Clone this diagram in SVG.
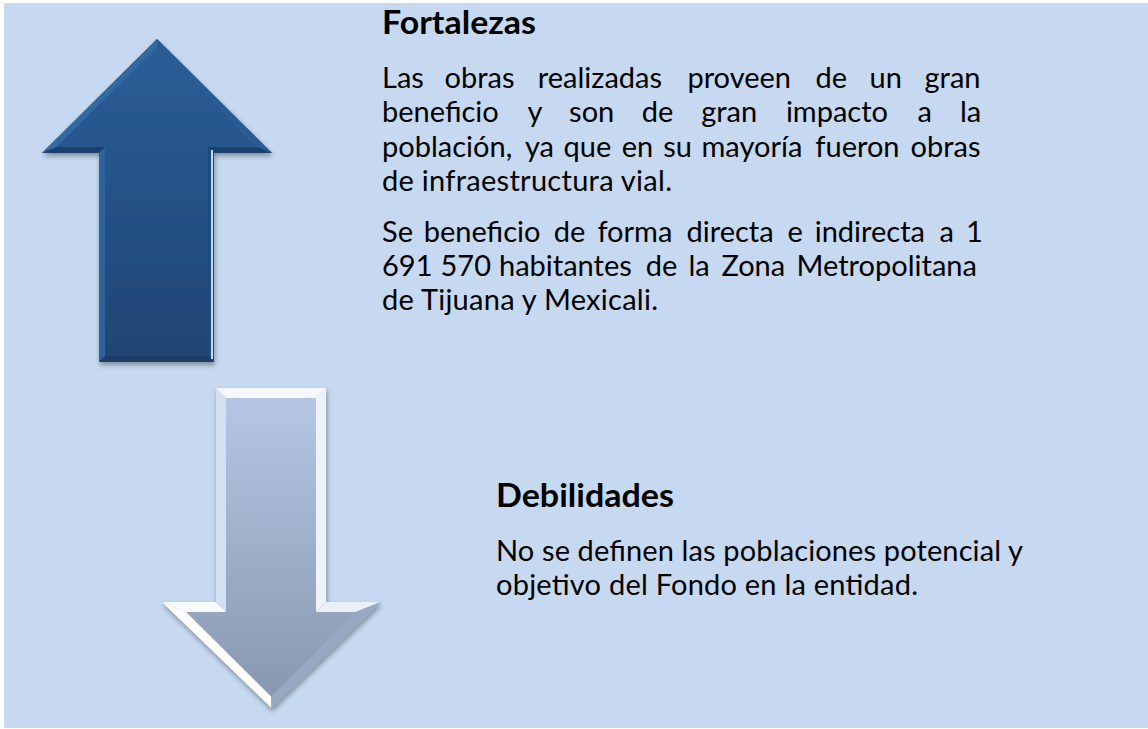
<svg xmlns="http://www.w3.org/2000/svg" width="1148" height="729" viewBox="0 0 1148 729">
<style>
.h{font-family:Lato,"Open Sans","Liberation Sans",sans-serif;font-weight:bold;font-size:33px;fill:#000}
.b{font-family:Lato,"Open Sans","Liberation Sans",sans-serif;font-size:29px;fill:#000}
</style>
<defs>
<linearGradient id="upG" x1="0" y1="0" x2="0" y2="1">
<stop offset="0" stop-color="#2b5e98"/><stop offset="1" stop-color="#1f4573"/>
</linearGradient>
<linearGradient id="dnG" x1="0" y1="0" x2="0" y2="1">
<stop offset="0" stop-color="#b6c8e5"/><stop offset="1" stop-color="#8696ae"/>
</linearGradient>
<filter id="sh" x="-20%" y="-20%" width="140%" height="140%">
<feDropShadow dx="1" dy="3" stdDeviation="2.5" flood-color="#000" flood-opacity="0.35"/>
</filter>
</defs>
<rect x="4" y="3" width="1144" height="725" fill="#c6d9f0"/>
<g id="arrow-up" filter="url(#sh)">
<polygon points="157,39 272,153 214,153 214,362 99,362 99,153 42,153" fill="url(#upG)"/>
<polygon points="42,153 157,39 157,47.5 56.5,147" fill="#3369a3"/>
<polygon points="157,39 272,153 257,147 157,47.5" fill="#2a5b93"/>
<polygon points="42,153 56.5,147 105,147 99,153" fill="#1d416c"/>
<polygon points="214,153 208,147 257,147 272,153" fill="#1d416c"/>
<polygon points="99,153 105,147 105,356 99,362" fill="#2f629c"/>
<polygon points="214,153 214,362 208,356 208,147" fill="#224b7c"/>
<polygon points="99,362 105,356 208,356 214,362" fill="#1c3e67"/>
<line x1="212" y1="150" x2="212" y2="359" stroke="#b9dafc" stroke-width="2"/>
</g>
<g id="arrow-down" filter="url(#sh)">
<polygon points="216,388 326,388 326,602 381,602 271.5,708 162,602 216,602" fill="url(#dnG)"/>
<polygon points="216,388 326,388 316,398 226,398" fill="#f4f8fd"/>
<polygon points="216,388 226,398 226,612 216,602" fill="#d3e0f2"/>
<polygon points="326,388 326,602 316,612 316,398" fill="#eef3fb"/>
<polygon points="162,602 216,602 226,612 186,612" fill="#f7fafe"/>
<polygon points="326,602 381,602 355.5,612 316,612" fill="#e9f0fa"/>
<polygon points="162,602 186,612 271,696.5 271.5,708" fill="#ffffff"/>
<polygon points="381,602 271.5,708 271,696.5 355.5,612" fill="#97a8c2"/>
</g>
<g id="fortalezas">
<text class="h" x="382" y="34" textLength="154" lengthAdjust="spacingAndGlyphs">Fortalezas</text>
<text class="b" y="88"><tspan x="382">Las</tspan><tspan x="444.5">obras</tspan><tspan x="537.8">realizadas</tspan><tspan x="687.4">proveen</tspan><tspan x="815.5">de</tspan><tspan x="869.6">un</tspan><tspan x="924.5">gran</tspan></text>
<text class="b" y="122"><tspan x="382">beneficio</tspan><tspan x="527.6">y</tspan><tspan x="569.1">son</tspan><tspan x="641.8">de</tspan><tspan x="701.2">gran</tspan><tspan x="785.9">impacto</tspan><tspan x="917.6">a</tspan><tspan x="959.9">la</tspan></text>
<text class="b" y="157"><tspan x="382">población,</tspan><tspan x="524.9">ya</tspan><tspan x="563.6">que</tspan><tspan x="621.7">en</tspan><tspan x="663.3">su</tspan><tspan x="701.5">mayoría</tspan><tspan x="815.3">fueron</tspan><tspan x="910.6">obras</tspan></text>
<text class="b" x="382" y="191" textLength="290">de infraestructura vial.</text>
<text class="b" y="242"><tspan x="382">Se</tspan><tspan x="423.7">beneficio</tspan><tspan x="553.7">de</tspan><tspan x="597.4">forma</tspan><tspan x="686.5">directa</tspan><tspan x="787.4">e</tspan><tspan x="814.7">indirecta</tspan><tspan x="939.4">a</tspan><tspan x="966">1</tspan></text>
<text class="b" y="276"><tspan x="382">691</tspan><tspan x="440.5">570</tspan><tspan x="499">habitantes</tspan><tspan x="645.7">de</tspan><tspan x="688.5">la</tspan><tspan x="721.4">Zona</tspan><tspan x="796.5">Metropolitana</tspan></text>
<text class="b" x="382" y="310" textLength="276">de Tijuana y Mexicali.</text>
</g>
<g id="debilidades">
<text class="h" x="496" y="507" textLength="178" lengthAdjust="spacingAndGlyphs">Debilidades</text>
<text class="b" x="496" y="561" textLength="527">No se definen las poblaciones potencial y</text>
<text class="b" x="496" y="595" textLength="422">objetivo del Fondo en la entidad.</text>
</g>
<g id="connectors"/>
</svg>
